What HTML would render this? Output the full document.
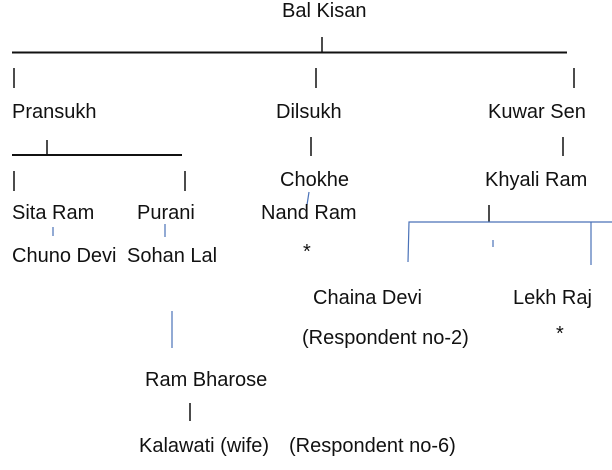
<!DOCTYPE html>
<html><head><meta charset="utf-8"><style>
html,body{margin:0;padding:0;background:#fff;}
svg{display:block;}
text{font-family:"Liberation Sans",Arial,sans-serif;font-size:20px;fill:#111;}
</style></head><body>
<svg width="612" height="470" viewBox="0 0 612 470" xmlns="http://www.w3.org/2000/svg">
<g stroke="#111" stroke-width="2" fill="none">
<line x1="12" y1="52.5" x2="567" y2="52.5"/>
<line x1="12" y1="155" x2="182" y2="155"/>
</g>
<g stroke="#111" stroke-width="1.5" fill="none">
<line x1="322" y1="37" x2="322" y2="52"/>
<line x1="14" y1="68" x2="14" y2="88"/>
<line x1="316" y1="68" x2="316" y2="88"/>
<line x1="574" y1="68" x2="574" y2="88"/>
<line x1="47" y1="140" x2="47" y2="155"/>
<line x1="311" y1="137" x2="311" y2="156"/>
<line x1="563" y1="137" x2="563" y2="156"/>
<line x1="14" y1="171" x2="14" y2="191"/>
<line x1="185" y1="171" x2="185" y2="191"/>
<line x1="489" y1="205" x2="489" y2="222"/>
<line x1="190" y1="403" x2="190" y2="421"/>
</g>
<g stroke="#4a72b8" stroke-width="1.2" fill="none">
<polyline points="408,262 409,222 612,222"/>
<line x1="591" y1="222" x2="591" y2="265"/>
<line x1="493" y1="240" x2="493" y2="247"/>
<line x1="53" y1="227" x2="53" y2="236"/>
<line x1="165" y1="224" x2="165" y2="237"/>
<line x1="309" y1="192" x2="307" y2="205"/>
<line x1="172" y1="311" x2="172" y2="348"/>
</g>
<text x="282" y="17">Bal Kisan</text>
<text x="12" y="118">Pransukh</text>
<text x="276" y="118">Dilsukh</text>
<text x="488" y="118">Kuwar Sen</text>
<text x="280" y="186">Chokhe</text>
<text x="485" y="186">Khyali Ram</text>
<text x="12" y="219">Sita Ram</text>
<text x="137" y="219">Purani</text>
<text x="261" y="219">Nand Ram</text>
<text x="12" y="262">Chuno Devi</text>
<text x="127" y="262">Sohan Lal</text>
<text x="303" y="258">*</text>
<text x="313" y="304">Chaina Devi</text>
<text x="513" y="304">Lekh Raj</text>
<text x="302" y="344">(Respondent no-2)</text>
<text x="556" y="340">*</text>
<text x="145" y="386">Ram Bharose</text>
<text x="139" y="452">Kalawati (wife)</text>
<text x="289" y="452">(Respondent no-6)</text>
</svg>
</body></html>
